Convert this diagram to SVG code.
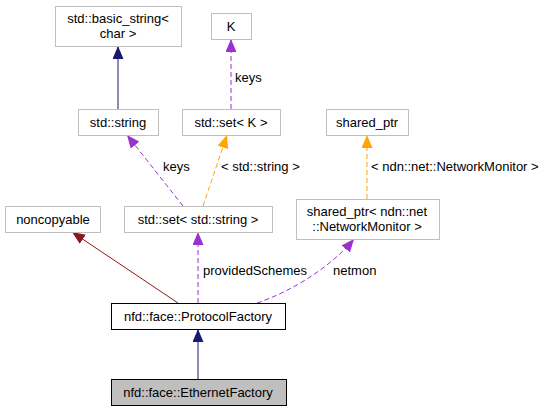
<svg xmlns="http://www.w3.org/2000/svg" width="549" height="411" viewBox="0 0 549 411">
<style>
text{font-family:"Liberation Sans",Arial,sans-serif;font-size:13px;fill:#000}
.n{text-anchor:middle}
.box{fill:#fff;stroke:#bfbfbf;stroke-width:1}
.main{fill:#fff;stroke:#000;stroke-width:1}
.cur{fill:#bfbfbf;stroke:#000;stroke-width:1}
.e{fill:none;stroke-width:1}
.inh{stroke:#191970;marker-end:url(#aNavy)}
.use{stroke:#9a32cd;stroke-dasharray:5,3;marker-end:url(#aPurple)}
.tpl{stroke:#ffa500;stroke-dasharray:5,3;marker-end:url(#aOrange)}
.priv{stroke:#8b1a1a;marker-end:url(#aRed)}
</style>
<defs>
<marker id="aNavy" markerUnits="userSpaceOnUse" viewBox="0 0 13 11" refX="13" refY="5.5" markerWidth="13" markerHeight="11" orient="auto"><path d="M0,0 L13,5.5 L0,11 z" fill="#191970"/></marker>
<marker id="aPurple" markerUnits="userSpaceOnUse" viewBox="0 0 13 11" refX="13" refY="5.5" markerWidth="13" markerHeight="11" orient="auto"><path d="M0,0 L13,5.5 L0,11 z" fill="#9a32cd"/></marker>
<marker id="aOrange" markerUnits="userSpaceOnUse" viewBox="0 0 13 11" refX="13" refY="5.5" markerWidth="13" markerHeight="11" orient="auto"><path d="M0,0 L13,5.5 L0,11 z" fill="#ffa500"/></marker>
<marker id="aRed" markerUnits="userSpaceOnUse" viewBox="0 0 13 11" refX="13" refY="5.5" markerWidth="13" markerHeight="11" orient="auto"><path d="M0,0 L13,5.5 L0,11 z" fill="#8b1a1a"/></marker>
</defs>
<g id="connectors">
<path class="e inh" d="M118,109 L118,46"/>
<path class="e use" d="M231,109 L231,39"/>
<text x="235" y="81.5">keys</text>
<path class="e use" d="M183,206 L127,135"/>
<text x="163" y="170.5">keys</text>
<path class="e tpl" d="M203,206 L227,135"/>
<text x="221" y="170.5">&lt; std::string &gt;</text>
<path class="e tpl" d="M367,199 L367,135"/>
<text x="371" y="170.5">&lt; ndn::net::NetworkMonitor &gt;</text>
<path class="e priv" d="M178,303 L72,232"/>
<path class="e use" d="M198,303 L198,232"/>
<text x="203" y="274.5">providedSchemes</text>
<path class="e use" d="M257,303 C290,292 330,268 354,239"/>
<text x="333" y="274.5">netmon</text>
<path class="e inh" d="M198,379 L198,329"/>
</g>
<g id="basic_string">
<rect class="box" x="55.5" y="6.5" width="126" height="40"/>
<text class="n" x="118" y="22.5">std::basic_string&lt;</text>
<text class="n" x="118" y="37.5">char &gt;</text>
</g>
<g id="K">
<rect class="box" x="211.5" y="13.5" width="40" height="26"/>
<text class="n" x="231" y="30.5">K</text>
</g>
<g id="std_string">
<rect class="box" x="78.5" y="109.5" width="80" height="26"/>
<text class="n" x="118" y="126.5">std::string</text>
</g>
<g id="set_K">
<rect class="box" x="182.5" y="109.5" width="98" height="26"/>
<text class="n" x="231" y="126.5">std::set&lt; K &gt;</text>
</g>
<g id="shared_ptr">
<rect class="box" x="326.5" y="109.5" width="82" height="26"/>
<text class="n" x="367" y="126.5">shared_ptr</text>
</g>
<g id="noncopyable">
<rect class="box" x="5.5" y="206.5" width="95" height="26"/>
<text class="n" x="53" y="223.5">noncopyable</text>
</g>
<g id="set_string">
<rect class="box" x="124.5" y="206.5" width="148" height="26"/>
<text class="n" x="198" y="223.5">std::set&lt; std::string &gt;</text>
</g>
<g id="shared_ptr_nm">
<rect class="box" x="296.5" y="199.5" width="143" height="40"/>
<text class="n" x="367" y="215.5">shared_ptr&lt; ndn::net</text>
<text class="n" x="367" y="230.5">::NetworkMonitor &gt;</text>
</g>
<g id="ProtocolFactory">
<rect class="main" x="111.5" y="303.5" width="174" height="26"/>
<text class="n" x="198" y="320.5">nfd::face::ProtocolFactory</text>
</g>
<g id="EthernetFactory">
<rect class="cur" x="111.5" y="379.5" width="175" height="26"/>
<text class="n" x="198" y="396.5">nfd::face::EthernetFactory</text>
</g>
</svg>
